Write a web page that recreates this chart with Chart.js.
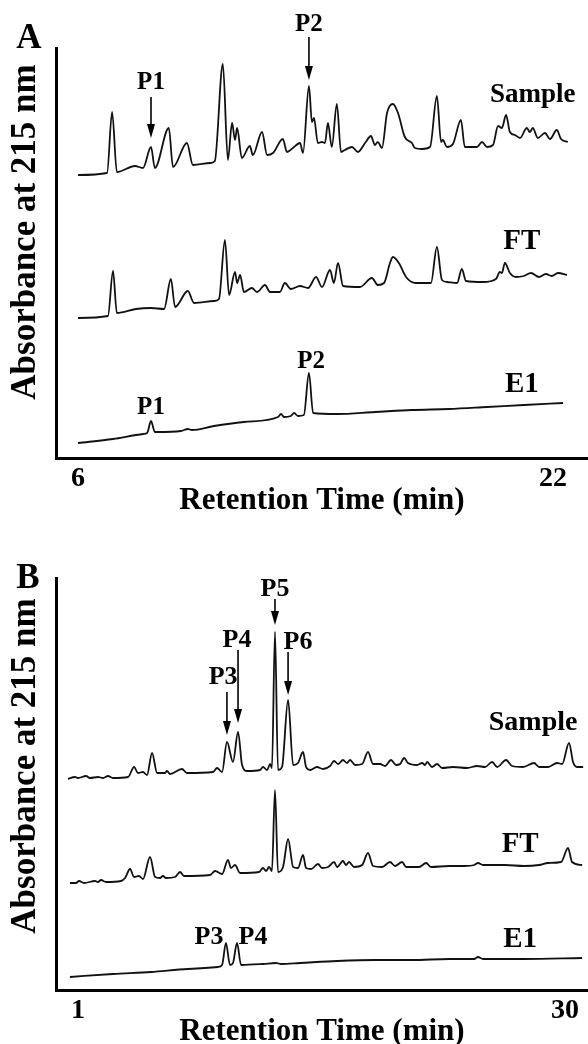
<!DOCTYPE html>
<html lang="en">
<head>
<meta charset="utf-8">
<title>RP-HPLC chromatograms</title>
<script src="https://cdn.jsdelivr.net/npm/chart.js"></script>
<style>
  html, body { margin: 0; padding: 0; background: #fff; overflow: hidden; }
  canvas { display: block; }
</style>
</head>
<body>
<canvas id="chartA" width="588" height="525"></canvas>
<canvas id="chartB" width="588" height="519"></canvas>
<script>
  // retention time (min), absorbance (arbitrary units, traces stacked)
  const aSample = [[6.00,283],[6.98,285],[7.15,346],[7.31,286],[7.92,292],[8.19,290],[8.46,311],[8.59,290],[9.06,330],[9.20,291],
    [9.67,315],[9.87,293],[10.45,295],[10.61,297],[10.88,394],[11.05,298],[11.19,335],[11.29,318],[11.36,330],[11.52,300],
    [11.79,312],[11.89,303],[12.20,326],[12.37,303],[12.57,305],[12.90,319],[13.04,306],[13.24,310],[13.48,315],[13.58,305],
    [13.78,372],[13.88,336],[13.95,340],[14.08,315],[14.22,316],[14.32,315],[14.42,335],[14.55,311],[14.72,354],[14.86,306],
    [14.99,308],[15.23,311],[15.43,306],[15.67,315],[15.87,322],[16.00,313],[16.10,316],[16.24,310],[16.41,345],[16.61,354],
    [16.78,345],[17.01,321],[17.25,315],[17.35,310],[17.59,309],[17.86,311],[18.09,362],[18.23,316],[18.29,318],[18.43,311],
    [18.63,314],[18.90,338],[19.03,311],[19.44,311],[19.61,316],[19.78,311],[19.98,313],[20.15,332],[20.28,330],[20.42,343],
    [20.55,326],[20.72,323],[20.89,320],[21.12,330],[21.22,326],[21.32,330],[21.49,320],[21.73,325],[21.90,319],[22.13,328],
    [22.27,319],[22.50,316]];
  const aFT = [[6.00,140],[7.01,142],[7.18,187],[7.31,145],[7.95,149],[8.46,150],[8.90,149],[9.13,179],[9.27,151],[9.70,167],
    [9.91,155],[10.58,157],[10.75,159],[10.95,218],[11.09,163],[11.29,186],[11.36,175],[11.46,183],[11.59,166],[11.86,170],
    [12.03,166],[12.30,173],[12.47,166],[12.80,166],[12.97,175],[13.17,169],[13.48,172],[13.75,170],[14.02,181],[14.22,171],
    [14.49,188],[14.62,175],[14.76,195],[14.93,172],[15.50,171],[15.90,180],[16.10,173],[16.31,175],[16.51,195],[16.61,201],
    [16.81,195],[17.05,181],[17.38,175],[17.89,175],[18.09,211],[18.26,178],[18.43,176],[18.77,175],[18.93,189],[19.07,177],
    [19.64,176],[20.08,179],[20.21,186],[20.28,185],[20.38,195],[20.55,185],[20.75,181],[21.02,182],[21.26,185],[21.53,181],
    [21.76,184],[21.96,182],[22.17,185],[22.47,183]];
  const aE1 = [[6.00,15],[7.18,19],[8.20,24],[8.33,25],[8.46,37],[8.59,26],[8.69,26],[9.47,27],[9.70,29],[9.84,28],
    [10.58,32],[11.59,36],[12.74,41],[12.84,44],[12.94,41],[13.17,42],[13.28,45],[13.41,42],[13.61,43],[13.78,85],
    [13.92,45],[14.72,44],[16.00,46],[17.25,48],[18.50,49],[19.78,51],[21.02,53],[22.34,55]];

  const bSample = [[0.40,211],[0.82,213],[1.00,212],[1.48,214],[1.71,212],[2.19,213],[2.49,212],[2.79,214],[3.08,212],[3.98,213],
    [4.34,223],[4.57,217],[4.87,218],[5.11,215],[5.41,237],[5.71,217],[6.18,217],[6.30,219],[6.48,216],[7.19,221],
    [7.49,217],[9.04,218],[9.28,222],[9.58,218],[9.87,248],[10.23,228],[10.53,258],[10.77,225],[11.07,219],[11.84,220],
    [12.02,223],[12.26,220],[12.44,226],[12.55,222],[12.73,358],[12.91,220],[13.15,223],[13.51,290],[13.81,225],[14.10,227],
    [14.40,238],[14.58,223],[14.82,220],[15.23,223],[15.59,221],[16.01,224],[16.25,229],[16.49,226],[16.78,230],[17.02,227],
    [17.20,230],[17.50,225],[17.92,226],[18.27,238],[18.57,226],[18.99,226],[19.28,224],[19.64,230],[19.94,225],[20.18,226],
    [20.42,232],[20.65,227],[21.19,225],[21.49,227],[21.67,225],[21.79,228],[22.08,223],[22.38,226],[22.68,222],[23.34,223],
    [24.17,222],[24.76,224],[25.24,223],[25.66,228],[25.96,223],[26.49,230],[26.85,224],[27.50,223],[28.16,227],[28.46,223],
    [28.99,223],[29.53,227],[29.83,226],[30.24,247],[30.48,228],[30.72,223],[31.08,223]];
  const bFT = [[0.52,107],[0.88,107],[1.06,109],[1.36,107],[2.01,109],[2.19,108],[2.37,110],[2.67,108],[3.56,109],[3.80,112],
    [4.10,121],[4.34,113],[4.63,114],[4.87,111],[5.29,133],[5.59,113],[5.88,112],[6.06,114],[6.24,112],[6.78,113],
    [7.08,118],[7.31,114],[8.86,115],[9.16,119],[9.58,116],[9.93,130],[10.11,122],[10.35,125],[10.65,117],[11.78,118],
    [12.02,122],[12.20,119],[12.38,123],[12.55,119],[12.73,200],[12.91,118],[13.21,123],[13.51,151],[13.81,123],[14.10,122],
    [14.40,135],[14.58,122],[14.88,121],[15.29,126],[15.53,122],[15.89,123],[16.25,128],[16.43,123],[16.78,129],[16.96,125],
    [17.14,128],[17.44,123],[17.92,125],[18.27,137],[18.57,124],[19.11,123],[19.58,128],[19.88,124],[20.30,128],[20.54,123],
    [21.31,123],[21.73,127],[22.02,123],[23.10,124],[23.99,124],[24.59,125],[24.82,127],[25.12,125],[26.43,125],[27.56,124],
    [28.46,125],[28.99,127],[29.77,128],[30.18,142],[30.42,128],[31.02,125]];
  const bE1 = [[0.52,13],[3.08,16],[5.35,18],[7.55,21],[9.34,23],[9.58,25],[9.81,47],[10.05,25],[10.23,27],[10.47,47],
    [10.71,25],[12.02,26],[12.79,27],[13.09,26],[14.22,27],[16.43,29],[18.69,30],[20.89,30],[23.10,31],[24.59,31],
    [24.82,33],[25.12,31],[27.56,31],[31.02,32]];

  const serif = '"Liberation Serif", "Times New Roman", serif';

  // text labels and arrows drawn over the plot area, placed in data units
  const labelPlugin = {
    id: 'panelLabels',
    afterDraw(chart, args, o) {
      const { ctx, scales: { x, y } } = chart;
      ctx.save();
      ctx.fillStyle = '#000';
      ctx.strokeStyle = '#000';
      ctx.textAlign = 'center';

      ctx.textBaseline = 'alphabetic';
      ctx.font = `bold 35px ${serif}`;
      ctx.fillText(o.panel, o.panelPos[0], o.panelPos[1]);

      ctx.save();
      ctx.translate(o.yTitlePos[0], o.yTitlePos[1]);
      ctx.rotate(-Math.PI / 2);
      ctx.font = `bold 35px ${serif}`;
      ctx.fillText('Absorbance at 215 nm', 0, 0);
      ctx.restore();

      ctx.textBaseline = 'middle';
      o.notes.forEach(n => {
        ctx.font = `bold ${n.size}px ${serif}`;
        ctx.fillText(n.text, x.getPixelForValue(n.t), y.getPixelForValue(n.v));
      });

      ctx.lineWidth = 1.6;
      o.arrows.forEach(a => {
        const px = x.getPixelForValue(a.t);
        const y1 = y.getPixelForValue(a.from);
        const y2 = y.getPixelForValue(a.to);
        ctx.beginPath();
        ctx.moveTo(px, y1);
        ctx.lineTo(px, y2 - 10);
        ctx.stroke();
        ctx.beginPath();
        ctx.moveTo(px - 4, y2 - 14);
        ctx.lineTo(px + 4, y2 - 14);
        ctx.lineTo(px, y2);
        ctx.closePath();
        ctx.fill();
      });
      ctx.restore();
    }
  };

  function makeChart(id, p) {
    return new Chart(document.getElementById(id), {
      type: 'line',
      data: {
        datasets: p.traces.map(tr => ({
          label: tr.name,
          data: tr.points.map(d => ({ x: d[0], y: d[1] })),
          borderColor: '#111',
          borderWidth: 1.8,
          pointRadius: 0,
          fill: false,
          cubicInterpolationMode: 'monotone'
        }))
      },
      options: {
        responsive: false,
        animation: false,
        layout: { padding: { top: p.top, left: 0, right: 0, bottom: 0 } },
        plugins: {
          legend: { display: false },
          tooltip: { enabled: false },
          panelLabels: p.labels
        },
        scales: {
          x: {
            type: 'linear',
            min: p.xMin,
            max: p.xMax,
            grid: { display: false, drawTicks: false },
            border: { display: true, width: 3, color: '#000' },
            afterBuildTicks: s => { s.ticks = p.xTicks.map(v => ({ value: v })); },
            ticks: { color: '#000', padding: 4, font: { family: serif, weight: 'bold', size: 28 } },
            title: {
              display: true,
              text: 'Retention Time (min)',
              color: '#000',
              font: { family: serif, weight: 'bold', size: 31, lineHeight: 0.8 },
              padding: { top: 0, bottom: p.titlePad }
            },
            afterFit: s => { s.height = p.xHeight; }
          },
          y: {
            min: 0,
            max: p.yMax,
            grid: { display: false, drawTicks: false },
            ticks: { display: false },
            border: { display: true, width: 3, color: '#000' },
            afterFit: s => { s.width = 56; }
          }
        }
      },
      plugins: [labelPlugin]
    });
  }

  makeChart('chartA', {
    traces: [{ name: 'Sample', points: aSample }, { name: 'FT', points: aFT }, { name: 'E1', points: aE1 }],
    top: 48, xHeight: 67, titlePad: 12, yMax: 410,
    xMin: 5.26, xMax: 23.18, xTicks: [6, 22],
    labels: {
      panel: 'A', panelPos: [29, 48], yTitlePos: [35, 232],
      notes: [
        { text: 'Sample', t: 21.32, v: 363, size: 27 },
        { text: 'FT', t: 20.95, v: 216, size: 29 },
        { text: 'E1', t: 20.95, v: 73, size: 29 },
        { text: 'P1', t: 8.46, v: 375, size: 25 },
        { text: 'P2', t: 13.78, v: 433, size: 25 },
        { text: 'P1', t: 8.46, v: 50, size: 25 },
        { text: 'P2', t: 13.85, v: 96, size: 25 }
      ],
      arrows: [
        { t: 8.46, from: 361, to: 320 },
        { t: 13.78, from: 421, to: 378 }
      ]
    }
  });

  makeChart('chartB', {
    traces: [{ name: 'Sample', points: bSample }, { name: 'FT', points: bFT }, { name: 'E1', points: bE1 }],
    top: 53, xHeight: 54, titlePad: 0, yMax: 412,
    xMin: -0.31, xMax: 31.37, xTicks: [1, 30],
    labels: {
      panel: 'B', panelPos: [28, 63], yTitlePos: [35, 241],
      notes: [
        { text: 'Sample', t: 28.10, v: 267, size: 28 },
        { text: 'FT', t: 27.33, v: 145, size: 29 },
        { text: 'E1', t: 27.33, v: 50, size: 29 },
        { text: 'P5', t: 12.73, v: 401, size: 26 },
        { text: 'P4', t: 10.47, v: 350, size: 26 },
        { text: 'P6', t: 14.10, v: 348, size: 26 },
        { text: 'P3', t: 9.64, v: 313, size: 26 },
        { text: 'P3', t: 8.80, v: 53, size: 26 },
        { text: 'P4', t: 11.42, v: 53, size: 26 }
      ],
      arrows: [
        { t: 12.73, from: 391, to: 365 },
        { t: 10.53, from: 340, to: 267 },
        { t: 13.51, from: 338, to: 295 },
        { t: 9.87, from: 298, to: 255 }
      ]
    }
  });
</script>
</body>
</html>
